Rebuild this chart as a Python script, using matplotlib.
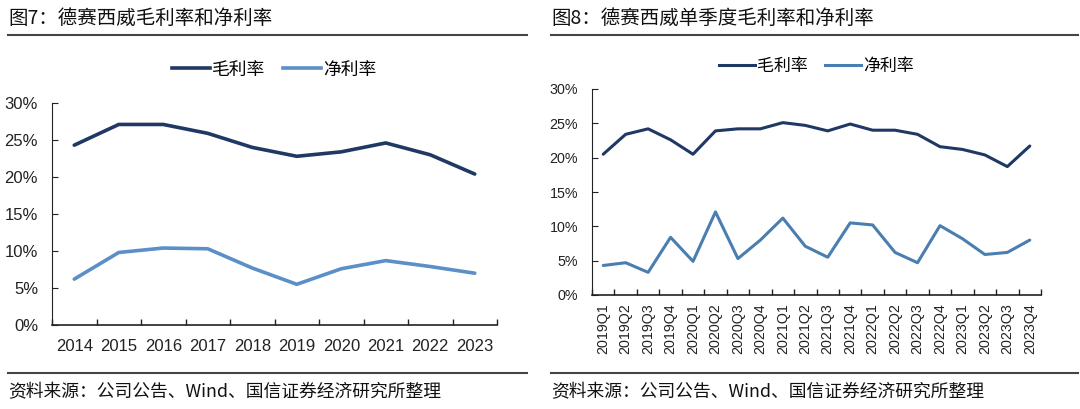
import numpy as np
import matplotlib
matplotlib.use('Agg')
import matplotlib.pyplot as plt
from matplotlib.lines import Line2D

plt.rcParams['font.family'] = ['Liberation Sans', 'Noto Sans CJK SC', 'DejaVu Sans']
cjk = ['Noto Sans CJK SC', 'DejaVu Sans']

# annual data (%)
years = ['2014', '2015', '2016', '2017', '2018', '2019', '2020', '2021', '2022', '2023']
gross_y = [24.3, 27.1, 27.1, 25.9, 24.0, 22.8, 23.4, 24.6, 23.0, 20.4]
net_y = [6.2, 9.8, 10.4, 10.3, 7.7, 5.5, 7.6, 8.7, 7.9, 7.0]

# quarterly data (%)
quarters = ['2019Q1', '2019Q2', '2019Q3', '2019Q4', '2020Q1', '2020Q2', '2020Q3', '2020Q4',
            '2021Q1', '2021Q2', '2021Q3', '2021Q4', '2022Q1', '2022Q2', '2022Q3', '2022Q4',
            '2023Q1', '2023Q2', '2023Q3', '2023Q4']
gross_q = [20.5, 23.4, 24.2, 22.6, 20.5, 23.9, 24.2, 24.2, 25.1, 24.7, 23.9, 24.9,
           24.0, 24.0, 23.4, 21.6, 21.2, 20.4, 18.7, 21.7]
net_q = [4.3, 4.7, 3.3, 8.4, 4.9, 12.1, 5.3, 8.0, 11.2, 7.1, 5.5, 10.5,
         10.2, 6.2, 4.7, 10.1, 8.2, 5.9, 6.2, 8.0]

c_gross = '#1F3864'

W, H = 1080, 409
fig = plt.figure(figsize=(W / 100, H / 100), dpi=100)


def fx(px):
    return px / W


def fy(py):
    return 1 - py / H


def panel(rect, cats, gross, net, tick_fs, xpad, lw, rot, leg_y, leg_fs, net_color):
    ax = fig.add_axes(rect)
    x = np.arange(len(cats))
    ax.plot(x, gross, color=c_gross, lw=lw, solid_joinstyle='round', solid_capstyle='round')
    ax.plot(x, net, color=net_color, lw=lw, solid_joinstyle='round', solid_capstyle='round')
    ax.set_xlim(-0.5, len(cats) - 0.5)
    ax.set_ylim(0, 30)
    ax.set_yticks(range(0, 31, 5))
    ax.set_yticklabels([f'{v}%' for v in range(0, 31, 5)])
    ax.set_xticks(x)
    ax.set_xticklabels(cats, rotation=rot)
    ax.set_xticks(np.arange(-0.5, len(cats)), minor=True)
    ax.tick_params(axis='x', which='major', length=0, labelsize=tick_fs, pad=xpad, colors='#222222')
    ax.tick_params(axis='x', which='minor', direction='in', length=4, width=1, color='#222222')
    ax.tick_params(axis='y', direction='in', length=4, width=0.8, labelsize=tick_fs,
                   colors='#222222', pad=10)
    for s in ['top', 'right']:
        ax.spines[s].set_visible(False)
    for s in ['left', 'bottom']:
        ax.spines[s].set_color('#222222')
    ax.spines['left'].set_linewidth(0.8)
    ax.spines['bottom'].set_linewidth(1.2)
    handles = [Line2D([], [], color=c_gross, lw=lw), Line2D([], [], color=net_color, lw=lw)]
    ax.legend(handles, ['毛利率', '净利率'], loc='center', bbox_to_anchor=(0.5, leg_y),
              ncol=2, frameon=False, prop={'family': cjk, 'size': leg_fs},
              handlelength=2.1, handletextpad=0.15, columnspacing=1.0)
    return ax


panel([fx(52), fy(325), fx(445), (325 - 103) / H], years, gross_y, net_y,
      12, 10, 2.6, 0, 1.15, 12.8, '#5B8FC7')
panel([fx(592), fy(295), fx(449), (295 - 89) / H], quarters, gross_q, net_q,
      10.3, 6, 2.2, 90, 1.11, 12.2, '#4A7EB0')

# titles, rules and source notes
for x0, x1, title in [(8, 527, '图7：德赛西威毛利率和净利率'),
                      (551, 1078, '图8：德赛西威单季度毛利率和净利率')]:
    fig.text(fx(x0), fy(18), title, family=cjk, fontsize=14, color='#111111',
             ha='left', va='center')
    fig.add_artist(Line2D([fx(x0), fx(x1)], [fy(35), fy(35)], color='#444444', lw=1.5))
    fig.add_artist(Line2D([fx(x0), fx(x1)], [fy(373), fy(373)], color='#444444', lw=1.5))
    fig.text(fx(x0), fy(392), '资料来源：公司公告、Wind、国信证券经济研究所整理', family=cjk,
             fontsize=12.8, color='#111111', ha='left', va='center')

fig.savefig('out.png', dpi=100, facecolor='white')
